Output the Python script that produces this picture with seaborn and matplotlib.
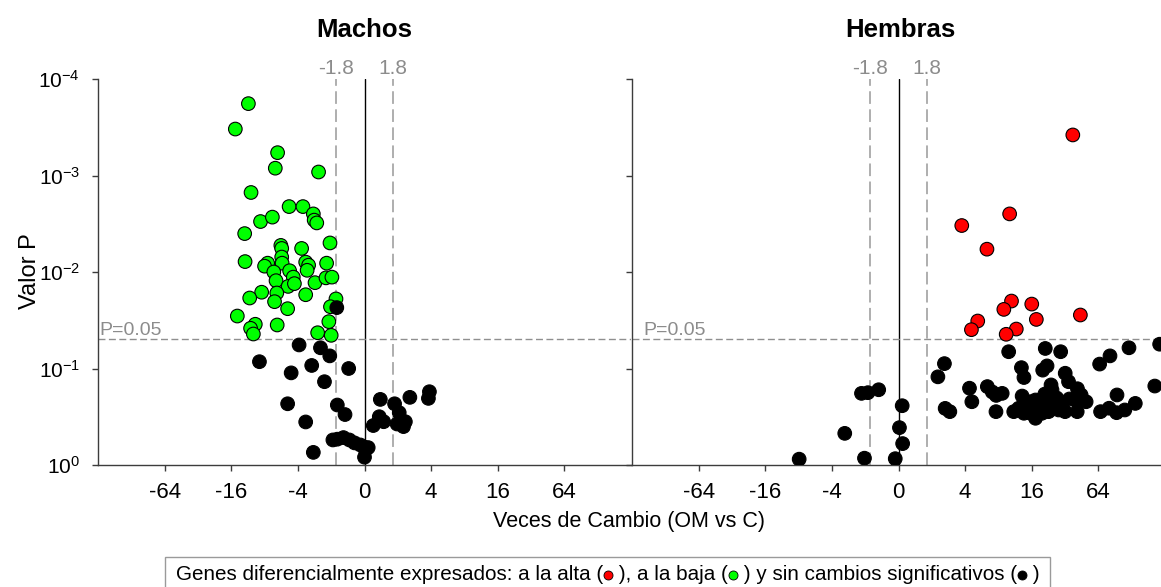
import numpy as np
import pandas as pd
import matplotlib
matplotlib.use("Agg")
import matplotlib.pyplot as plt
import seaborn as sns
from matplotlib.lines import Line2D
from matplotlib.patches import Rectangle
from matplotlib.ticker import NullLocator
from matplotlib.transforms import blended_transform_factory

# ---------------- data: fold change (OM vs C) and P value per gene ----------------
# Machos
machos_baja_fc = [-11.2, -14.7, -6.1, -6.4, -2.6, -10.6, -4.8, -3.6, -2.9, -8.7,
                  -6.8, -2.85, -2.7, -12.1, -2.05, -5.7, -5.6, -3.7, -12.0, -7.5,
                  -8.0, -5.6, -5.55, -3.4, -3.2, -3.3, -2.2, -6.6, -4.75, -4.4,
                  -6.3, -2.8, -2.23, -1.97, -4.9, -4.3, -8.5, -6.2, -3.4, -10.9,
                  -6.5, -1.81, -2.03, -4.95, -14.1, -2.1, -9.7, -10.7, -10.1, -6.15,
                  -2.65, -2.0]
machos_baja_p = [1.8e-4, 3.3e-4, 5.8e-4, 8.4e-4, 9.2e-4, 1.5e-3, 2.1e-3, 2.1e-3, 2.5e-3, 3.0e-3,
                 2.7e-3, 2.9e-3, 3.1e-3, 4.0e-3, 5.0e-3, 5.3e-3, 5.7e-3, 5.7e-3, 7.8e-3, 8.1e-3,
                 8.7e-3, 7.0e-3, 8.1e-3, 7.9e-3, 8.5e-3, 9.6e-3, 8.1e-3, 1.0e-2, 9.7e-3, 1.13e-2,
                 1.23e-2, 1.29e-2, 1.15e-2, 1.13e-2, 1.41e-2, 1.32e-2, 1.62e-2, 1.65e-2, 1.72e-2, 1.86e-2,
                 2.03e-2, 1.9e-2, 2.29e-2, 2.4e-2, 2.86e-2, 3.27e-2, 3.48e-2, 3.83e-2, 4.39e-2, 3.54e-2,
                 4.26e-2, 4.53e-2]
machos_ns_fc = [-3.9, -2.5, -2.06, -8.9, -3.0, -1.39, -4.6, -2.3, -4.95, -1.76,
                -1.5, -3.4, 1.39, 1.87, 2.57, 3.86, 3.78, 2.06, 1.36, 1.49,
                1.2, 1.97, 2.34, 2.25, -1.93, -1.76, -1.55, -1.37, -1.23, -1.09,
                -1.01, 1.08, 1.02, 1.0, -2.9, -1.78]
machos_ns_p = [0.057, 0.061, 0.074, 0.085, 0.093, 0.10, 0.111, 0.137, 0.232, 0.239,
               0.30, 0.358, 0.209, 0.232, 0.199, 0.174, 0.204, 0.287, 0.316, 0.356,
               0.39, 0.376, 0.356, 0.40, 0.55, 0.54, 0.52, 0.55, 0.59, 0.62,
               0.65, 0.66, 0.70, 0.83, 0.74, 0.0234]

# Hembras
hembras_alta_fc = [37.6, 10.1, 3.73, 6.3, 10.5, 8.95, 16.0, 17.6, 44.0, 5.2, 4.56, 11.6, 9.4]
hembras_alta_p = [3.8e-4, 2.5e-3, 3.3e-3, 5.8e-3, 2.0e-2, 2.44e-2, 2.15e-2, 3.1e-2, 2.79e-2,
                  3.22e-2, 3.96e-2, 3.9e-2, 4.42e-2]
hembras_ns_fc = [-2.16, -1.89, -1.51, 1.08, -3.06, 1.02, 1.09, -7.9, -2.03, -1.07,
                 2.6, 2.27, 2.64, 2.91, 9.9, 21.2, 29.2, 121, 229, 81.5,
                 65.7, 12.9, 13.6, 20.1, 22.0, 32.1, 34.4, 23.9, 4.38, 6.35,
                 7.03, 7.64, 8.65, 41.4, 44.7, 49.6, 41.2, 94.3, 207, 4.6,
                 7.6, 11.0, 13.1, 14.0, 15.6, 17.3, 18.5, 17.3, 21.2, 23.6,
                 24.4, 26.1, 28.0, 29.9, 32.0, 22.7, 13.6, 15.6, 19.8, 41.2,
                 67, 80, 93.5, 111, 138, 21.0, 26.9, 16.3, 12.2, 35.0]
hembras_ns_p = [0.181, 0.178, 0.166, 0.243, 0.47, 0.41, 0.60, 0.87, 0.85, 0.86,
                0.089, 0.122, 0.259, 0.28, 0.067, 0.062, 0.067, 0.061, 0.056, 0.074,
                0.090, 0.098, 0.124, 0.104, 0.094, 0.112, 0.137, 0.148, 0.160, 0.154,
                0.175, 0.19, 0.181, 0.162, 0.188, 0.221, 0.221, 0.188, 0.152, 0.221,
                0.28, 0.28, 0.193, 0.258, 0.221, 0.212, 0.258, 0.328, 0.221, 0.196,
                0.167, 0.23, 0.269, 0.23, 0.28, 0.28, 0.291, 0.291, 0.291, 0.28,
                0.28, 0.258, 0.287, 0.269, 0.23, 0.184, 0.202, 0.269, 0.258, 0.207]

fc_ticks = [-64, -16, -4, 0, 4, 16, 64]
p_ticks = [1e0, 1e-1, 1e-2, 1e-3, 1e-4]
p_tick_labels = [r"$10^{0}$", r"$10^{-1}$", r"$10^{-2}$", r"$10^{-3}$", r"$10^{-4}$"]
fc_cut = 1.8
p_cut = 0.05

PALETTE = {"alta": "#ff0000", "baja": "#00ff00", "ns": "#000000"}


def frame(groups):
    parts = [pd.DataFrame({"fc": fc, "p": p, "grupo": name}) for name, fc, p in groups]
    return pd.concat(parts, ignore_index=True)


df_machos = frame([("baja", machos_baja_fc, machos_baja_p),
                   ("ns", machos_ns_fc, machos_ns_p)])
df_hembras = frame([("alta", hembras_alta_fc, hembras_alta_p),
                    ("ns", hembras_ns_fc, hembras_ns_p)])


# signed log2 axis for fold changes (|FC| < 1 collapses onto 0)
def fc_to_axis(v):
    v = np.asarray(v, dtype=float)
    return np.sign(v) * np.log2(np.maximum(np.abs(v), 1.0))


def axis_to_fc(u):
    u = np.asarray(u, dtype=float)
    return np.sign(u) * np.exp2(np.abs(u))


# ---------------- style ----------------
sns.set_theme(style="ticks")
plt.rcParams["font.family"] = ["Liberation Sans", "DejaVu Sans"]
plt.rcParams["mathtext.default"] = "regular"
plt.rcParams["text.color"] = "black"
plt.rcParams["xtick.labelcolor"] = "black"
plt.rcParams["ytick.labelcolor"] = "black"
NARROW = ["Liberation Sans Narrow", "Liberation Sans", "DejaVu Sans"]
SPINE = "#3c3c3c"
GREY_TXT = "#8c8c8c"

W, H = 1161, 587
fig = plt.figure(figsize=(W / 100, H / 100), dpi=100)
fig.patch.set_facecolor("white")


def px_box(x0, y0, w, h):
    return [x0 / W, 1 - (y0 + h) / H, w / W, h / H]


ax_m = fig.add_axes(px_box(98, 79, 533, 386))
ax_h = fig.add_axes(px_box(632, 79, 533, 386))

for ax, df in ((ax_m, df_machos), (ax_h, df_hembras)):
    sns.scatterplot(data=df, x="fc", y="p", hue="grupo", palette=PALETTE,
                    s=96, edgecolor="black", linewidth=0.8, legend=False,
                    ax=ax, zorder=3)
    ax.set_xscale("function", functions=(fc_to_axis, axis_to_fc))
    ax.set_yscale("log")
    ax.set_xlim(-256, 256)
    ax.set_ylim(1, 1e-4)
    ax.set_xlabel("")
    ax.set_ylabel("")
    ax.set_facecolor("white")

    ax.set_xticks(fc_ticks)
    ax.set_xticklabels([str(t) for t in fc_ticks])
    ax.set_yticks(p_ticks)
    ax.set_yticklabels(p_tick_labels)
    ax.xaxis.set_minor_locator(NullLocator())
    ax.yaxis.set_minor_locator(NullLocator())
    for lab in ax.get_xticklabels():
        lab.set_fontfamily(NARROW)
        lab.set_fontsize(16)
        lab.set_color("black")
    ax.tick_params(axis="y", labelsize=15, pad=9, labelcolor="black")
    ax.tick_params(axis="x", pad=8, labelcolor="black")
    ax.tick_params(direction="out", length=4, width=1, color=SPINE)

    for side in ("top", "right"):
        ax.spines[side].set_visible(False)
    for side in ("left", "bottom"):
        ax.spines[side].set_color(SPINE)
        ax.spines[side].set_linewidth(1)

    # reference lines
    ax.axvline(0, color="black", lw=1, zorder=1)
    top = blended_transform_factory(ax.transData, ax.transAxes)
    for v in (-fc_cut, fc_cut):
        ax.axvline(v, color="#a8a8a8", lw=1.3, ls=(0, (7, 3)), zorder=1)
        ax.annotate(f"{v:g}", xy=(v, 1.0), xycoords=top, xytext=(0, 1),
                    textcoords="offset points", ha="center", va="bottom",
                    color=GREY_TXT, fontsize=15, annotation_clip=False)
    ax.axhline(p_cut, color="#8f8f8f", lw=1, ls=(0, (5, 2.5)), zorder=1)

left_tr = blended_transform_factory(ax_m.transAxes, ax_m.transData)
ax_m.annotate("P=0.05", xy=(0, p_cut), xycoords=left_tr, xytext=(1, 0),
              textcoords="offset points", ha="left", va="bottom",
              color=GREY_TXT, fontsize=14)
right_tr = blended_transform_factory(ax_h.transAxes, ax_h.transData)
ax_h.annotate("P=0.05", xy=(0, p_cut), xycoords=right_tr, xytext=(8, 0),
              textcoords="offset points", ha="left", va="bottom",
              color=GREY_TXT, fontsize=14)
ax_h.tick_params(axis="y", labelleft=False)

# titles and axis labels
fig.text(364 / W, 1 - 30 / H, "Machos", ha="center", va="center",
         fontsize=18.5, fontweight="bold")
fig.text(900 / W, 1 - 30 / H, "Hembras", ha="center", va="center",
         fontsize=18.5, fontweight="bold")
fig.text(30 / W, 1 - 271 / H, "Valor P", rotation=90, ha="center", va="center",
         fontsize=17)
fig.text(629 / W, 1 - 521 / H, "Veces de Cambio (OM vs C)", ha="center",
         va="center", fontsize=15.5, family=NARROW)

# legend box with coloured dots inline
fig.add_artist(Rectangle((165 / W, -0.05), (1050 - 165) / W, 0.05 + (1 - 557 / H),
                         transform=fig.transFigure, fill=False,
                         edgecolor="#9a9a9a", lw=1, clip_on=False))
segments = ["Genes diferencialmente expresados: a la alta (", " ), a la baja (",
            " ) y sin cambios significativos (", " )"]
dots = [PALETTE["alta"], PALETTE["baja"], PALETTE["ns"]]
slot = 10
y_leg = 1 - 575 / H
fig.canvas.draw()
renderer = fig.canvas.get_renderer()
texts = [fig.text(0, y_leg, s, fontsize=10, family=NARROW, ha="left", va="center")
         for s in segments]
w10 = sum(t.get_window_extent(renderer).width for t in texts)
size = 10 * (865 - slot * len(dots)) / w10
for t in texts:
    t.set_fontsize(size)
widths = [t.get_window_extent(renderer).width for t in texts]
x = 607.5 - (sum(widths) + slot * len(dots)) / 2
for i, t in enumerate(texts):
    t.set_x(x / W)
    x += widths[i]
    if i < len(dots):
        fig.add_artist(Line2D([(x + slot / 2) / W], [y_leg], transform=fig.transFigure,
                              marker="o", ms=6.5, mfc=dots[i], mec="black",
                              mew=0.6, ls="none"))
        x += slot

fig.savefig("out.png", dpi=100, facecolor="white")
